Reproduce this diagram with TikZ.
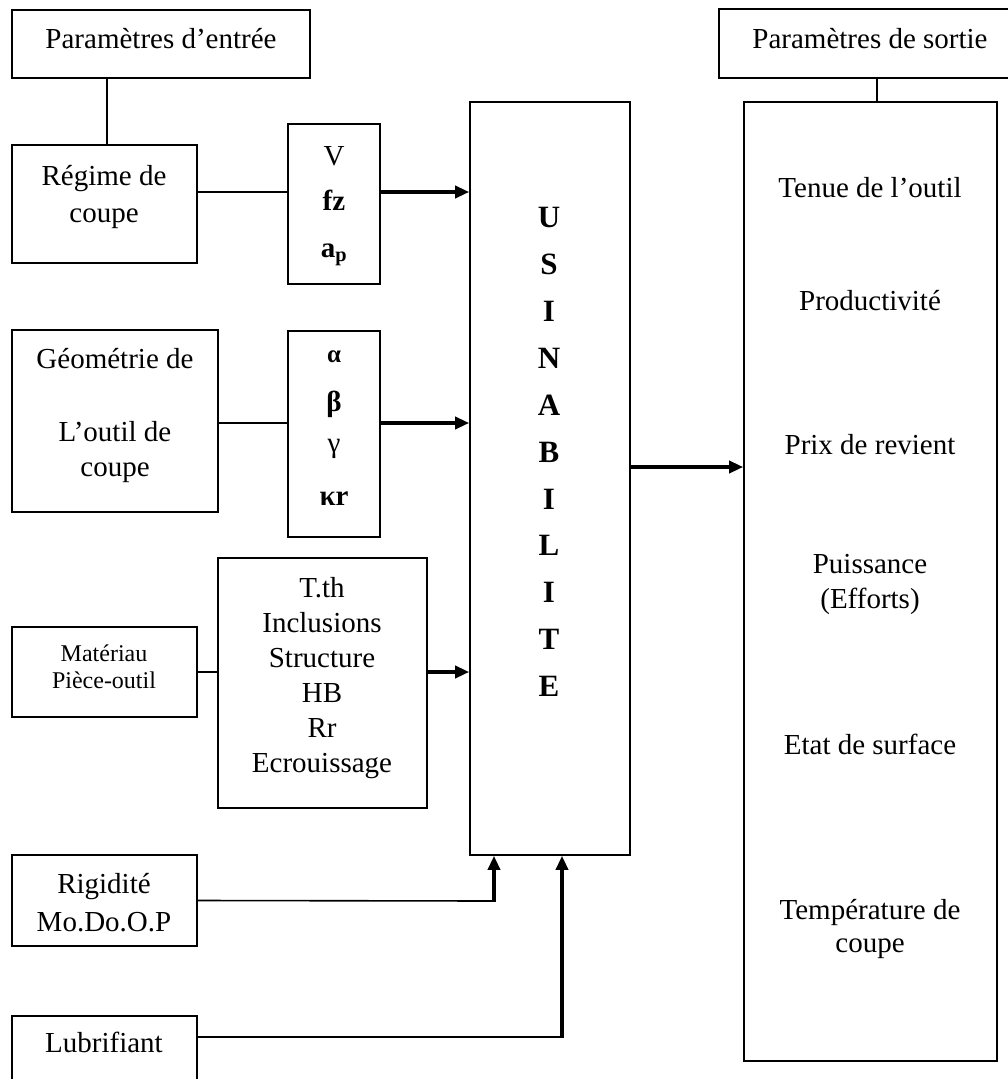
\documentclass[tikz,border=0pt]{standalone}
\usepackage{fontspec}
\setmainfont{Liberation Serif}
\usetikzlibrary{arrows.meta}
\begin{document}
\begin{tikzpicture}[x=1pt,y=-1pt,
  box/.style={draw,line width=1.6pt,inner sep=0pt},
  txt/.style={inner sep=0pt,font=\fontsize{29}{34}\selectfont,text height=19.5pt,text depth=0pt},
  smalltxt/.style={inner sep=0pt,font=\fontsize{24}{28}\selectfont,text height=16pt,text depth=0pt},
  conn/.style={line width=1.6pt},
  arr/.style={line width=3.4pt,-{Triangle[length=14pt,width=12pt]}},
]
\clip (0,0) rectangle (1008,1079);
\fill[white] (0,0) rectangle (1008,1079);

% boxes
\node[box,minimum width=298pt,minimum height=68pt] (pe) at (161,44) {};
\node[box,minimum width=185pt,minimum height=118pt] (regime) at (104.5,204) {};
\node[box,minimum width=92pt,minimum height=160pt] (vbox) at (334,204) {};
\node[box,minimum width=206pt,minimum height=182pt] (geo) at (115,421) {};
\node[box,minimum width=92pt,minimum height=206pt] (alpha) at (334,434) {};
\node[box,minimum width=185pt,minimum height=90pt] (mat) at (104.5,672) {};
\node[box,minimum width=209pt,minimum height=250pt] (tth) at (322.5,683) {};
\node[box,minimum width=185pt,minimum height=91pt] (rig) at (104.5,900.5) {};
\node[box,minimum width=185pt,minimum height=80pt] (lub) at (104.5,1056) {};
\node[box,minimum width=160pt,minimum height=753pt] (usin) at (550,478.5) {};
\node[box,minimum width=293pt,minimum height=69pt] (ps) at (865.5,43.5) {};
\node[box,minimum width=253pt,minimum height=959pt] (out) at (870.5,581.5) {};

% texts
\node[txt] (tpe) at (161,39) {Paramètres d’entrée};
\node[txt] (tr1) at (104,176) {Régime de};
\node[txt] (tr2) at (104,213) {coupe};
\node[txt] (tv) at (334,156) {V};
\node[txt] (tf) at (334,201) {\bfseries fz};
\node[txt] (ta) at (334,248) {\bfseries a\textsubscript{p}};
\node[txt] (tg1) at (115,359) {Géométrie de};
\node[txt] (tg2) at (115,432) {L’outil de};
\node[txt] (tg3) at (115,467) {coupe};
\node[txt] (tal) at (334,353) {\bfseries\fontsize{25}{30}\selectfont α};
\node[txt] (tbe) at (334,402) {\bfseries β};
\node[txt] (tga) at (334,443) {γ};
\node[txt] (tka) at (334,496) {\bfseries κr};
\node[smalltxt] (tm1) at (104,653) {Matériau};
\node[smalltxt] (tm2) at (104,680) {Pièce-outil};
\node[inner sep=0pt,align=center,font=\fontsize{29}{35}\selectfont] (tt) at (322,678)
  {T.th\\Inclusions\\Structure\\HB\\Rr\\Ecrouissage};
\node[txt] (trg1) at (104,884) {Rigidité};
\node[txt] (trg2) at (104,922) {Mo.Do.O.P};
\node[txt] (tlb) at (104,1043) {Lubrifiant};
\node[inner sep=0pt,align=center,font=\bfseries\fontsize{31}{46.9}\selectfont] (tu) at (549,452)
  {U\\S\\I\\N\\A\\B\\I\\L\\I\\T\\E};
\node[txt] (tps) at (870,39) {Paramètres de sortie};
\node[txt] (to1) at (870,188) {Tenue de l’outil};
\node[txt] (to2) at (870,301) {Productivité};
\node[txt] (to3) at (870,445) {Prix de revient};
\node[txt] (to4) at (870,564) {Puissance};
\node[txt] (to5) at (870,599) {(Efforts)};
\node[txt] (to6) at (870,745) {Etat de surface};
\node[txt] (to7) at (870,910) {Température de};
\node[txt] (to8) at (870,943) {coupe};

% connectors
\draw[conn] ([xshift=2.5pt]regime.north |- pe.south) -- ([xshift=2.5pt]regime.north);
\draw[conn] ([yshift=12pt]regime.east) -- ([yshift=12pt]regime.east -| vbox.west);
\draw[arr] ([yshift=12pt]regime.east -| vbox.east) -- ([yshift=12pt]regime.east -| usin.west);
\draw[conn] ([yshift=-2pt]geo.east) -- ([yshift=-2pt]geo.east -| alpha.west);
\draw[arr] ([yshift=-2pt]geo.east -| alpha.east) -- ([yshift=-2pt]geo.east -| usin.west);
\draw[conn] (mat.east) -- (mat.east -| tth.west);
\draw[arr] (mat.east -| tth.east) -- (mat.east -| usin.west);
\coordinate (rk) at (494,901);
\draw[conn] (rig.east) -- (rk);
\draw[arr] ([yshift=-0.8pt]rk) -- (rk |- usin.south);
\coordinate (lk) at (562,1037);
\draw[conn] ([yshift=19pt]lub.east) -- (lk);
\draw[arr] ([yshift=-0.8pt]lk) -- (lk |- usin.south);
\draw[arr] ([yshift=11.5pt]usin.east) -- ([yshift=11.5pt]usin.east -| out.west);
\draw[conn] ([xshift=6.5pt]out.north) -- ([xshift=6.5pt]out.north |- ps.south);
\end{tikzpicture}
\end{document}
